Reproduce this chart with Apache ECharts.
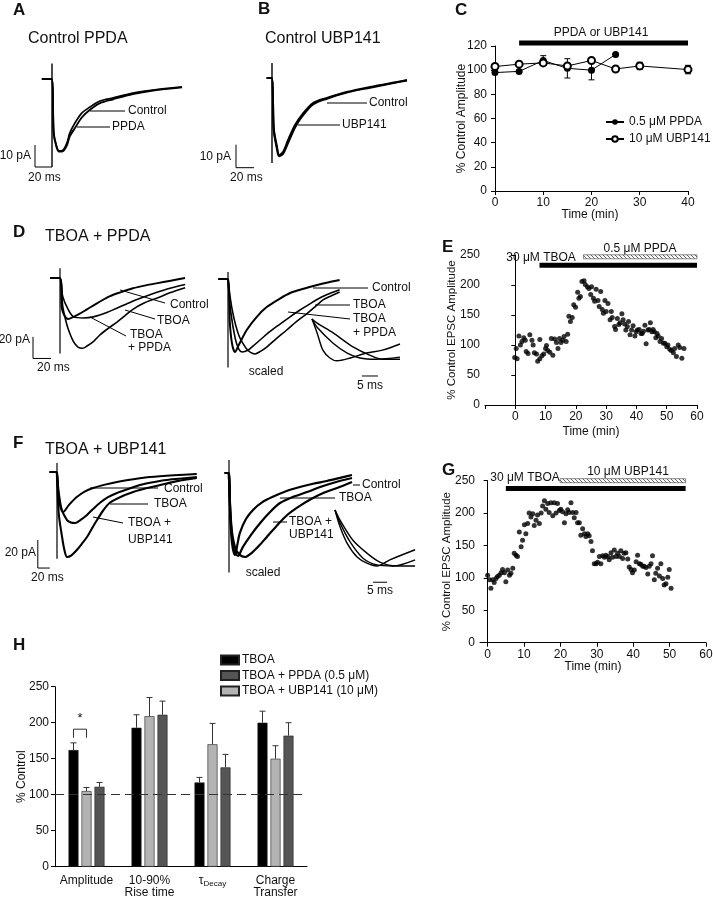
<!DOCTYPE html>
<html>
<head>
<meta charset="utf-8">
<script src="https://cdn.jsdelivr.net/npm/echarts@6/dist/echarts.min.js"></script>
<style>
  html, body { margin: 0; padding: 0; background: #fff; }
  #chart { width: 713px; height: 899px; }
</style>
</head>
<body>
<div id="chart"></div>
<script>
// ---------- data ----------
// traces are [ms, pA] pairs, t = 0 at the stimulus artifact
const aControl = [[-12,0],[-0.5,0],[2,-24],[5,-30],[8.2,-32.7],[13,-32.3],[17.6,-29],[21,-24.5],[27,-20],[35,-15.5],[44.7,-12.7],[56.5,-10],[72,-8.6],[95,-6.4],[119,-5],[153,-3.6]];
const aPpda = [[-12,0],[-0.5,0],[2,-25],[5,-30.5],[8.2,-33],[13,-32.8],[17.6,-30],[21,-26],[27,-22.3],[35,-17.5],[44.7,-14],[56.5,-11],[72,-9.2],[95,-6.8],[119,-5.2],[153,-3.8]];
const aArtifact = [[0,7],[0,-40]];
const aScaleBar = [[-20,-30],[-20,-40],[0,-40]];

const bControl = [[-6,0],[-0.5,0],[2,-22],[5.6,-30],[7.8,-33.5],[12.2,-32.2],[17.8,-27],[25.6,-20.4],[33.3,-16],[45.6,-10.9],[61,-8.7],[83,-6.1],[109,-3.9],[139,-1.7],[150,-0.9]];
const bUbp = [[-6,0],[-0.5,0],[2,-23],[5.6,-31],[7.8,-34],[12.2,-33],[17.8,-28.3],[25.6,-21.5],[33.3,-16.8],[45.6,-11.5],[61,-9],[83,-6.3],[109,-4.2],[139,-1.9],[150,-1.1]];
const bArtifact = [[0,6.5],[0,-37]];
const bScaleBar = [[-40,-29],[-40,-39],[-20,-39]];

const dControl = [[-11,0],[-0.3,0],[2,-28],[5,-35],[9,-38],[15,-36],[22,-33],[30,-29],[42,-23],[55,-17],[68,-13],[81,-9.5],[94,-7],[107,-5],[123,-2.5],[139,0]];
const dTboa = [[-11,0],[-0.3,0],[3,-17],[9,-29],[15,-36],[26,-37],[37,-36],[52,-32],[63,-28],[74,-24],[87,-19.5],[100,-15.5],[120,-10],[139,-6]];
const dTboaPpda = [[-11,0],[-0.3,0],[3,-26],[6,-38],[9,-47],[15,-59],[20,-64],[25,-65],[30,-63],[37,-59],[44,-53],[53,-47],[63,-41],[72,-35],[81,-29],[94,-23],[108,-18.5],[123,-13.5],[139,-9]];
const dArtifact = [[0,9],[0,-70]];
const dScaleBar = [[-30,-54.5],[-30,-74.5],[-10,-74.5]];

const dsControl = [[-11,0],[-0.3,0],[2,-40],[4.5,-60],[7.8,-67.6],[12,-61],[21,-47],[32,-35],[43,-26],[56,-19],[69,-13],[84,-9],[99,-5.6],[112,-3],[124,-1]];
const dsTboa = [[-0.3,0],[3,-30],[8,-55],[12,-65],[15.6,-67.6],[22,-66],[28,-62],[35.6,-56.5],[46,-49],[57.8,-41.7],[69,-35],[80,-28.7],[91,-23],[102,-17.6],[113,-13.5],[124,-10]];
const dsTboaPpda = [[-0.3,0],[5,-30],[12,-52],[20,-64],[25,-68],[30,-69.4],[36,-67],[43,-63],[54,-55],[65.6,-47],[76,-39.5],[87.8,-32],[97,-25.5],[105.6,-19.4],[115,-15.5],[124,-12]];
const dsArtifact = [[0,6.5],[0,-82]];

// insets: normalised rising phase
const dInsetControl = [[0,0],[1.6,-0.34],[3.4,-0.76],[5.6,-0.95],[7.8,-1.02],[12,-0.95],[17,-0.83],[22,-0.76],[27.5,-0.61]];
const dInsetTboa = [[0,0],[1.6,-0.2],[6.6,-0.59],[11,-0.83],[15,-0.95],[20,-0.98],[27.5,-0.93]];
const dInsetTboaPpda = [[0,0],[1.6,-0.1],[6.6,-0.34],[12.8,-0.68],[18,-0.88],[22,-0.98],[27.5,-0.98]];
const dInsetScaleBar = [[15.6,-1.39],[20.6,-1.39]];

const fControl = [[-13,0],[-0.3,0],[2,-15],[5,-24],[10,-28.6],[20,-23.5],[33,-17.9],[46,-14],[60,-11.4],[80,-9],[100,-7.1],[130,-5],[155,-3.6],[195,-2.3],[233,-1.4]];
const fTboa = [[-0.3,0],[3,-15],[8,-27],[16.7,-34.3],[23,-36],[30,-36.4],[40,-34],[50,-30.7],[60,-26.5],[71.7,-22],[85,-18],[100,-15],[120,-12],[138,-9.3],[160,-7.3],[183,-5.7],[233,-3.6]];
const fTboaUbp = [[-0.3,0],[3,-30],[8.3,-46],[12,-55],[16.7,-60.7],[24,-59.5],[33,-55.7],[41,-51.5],[50,-46.4],[58,-40.5],[66.7,-34.3],[77,-27.5],[88,-22],[105,-18],[127,-14.3],[150,-11.5],[172,-9.3],[200,-6.5],[233,-4.3]];
const fArtifact = [[0,6.4],[0,-62]];
const fScaleBar = [[-32,-48.6],[-32,-68.6],[-12,-68.6]];

const fsControl = [[-8,0],[-0.3,0],[2,-30],[5,-50],[10,-58.6],[14,-51],[18,-42.9],[28,-33],[40,-26.4],[55,-21],[73,-17],[95,-13],[118,-10],[140,-7.7],[163,-5.7],[185,-3.5],[205,-1.4]];
const fsTboa = [[-0.3,0],[3,-35],[8,-54],[15,-59.3],[23,-52.9],[37,-44],[52,-35.7],[68,-28],[85,-21.4],[107,-17],[130,-13.6],[152,-10],[173,-7.1],[205,-3.6]];
const fsTboaUbp = [[-0.3,0],[4,-38],[10,-53],[18,-58.5],[26.7,-60],[38,-57],[50,-52],[63,-45.7],[80,-37.5],[97,-30],[118,-23.5],[140,-17.9],[160,-13.8],[180,-10.7],[205,-6.4]];
const fsArtifact = [[0,9.3],[0,-71]];

const fInsetControl = [[0,0],[1.8,-0.3],[4.3,-0.59],[7.9,-0.84],[11.4,-0.95],[15,-1],[19.6,-0.89],[28.6,-0.71]];
const fInsetTboa = [[0,0],[1.8,-0.23],[5.4,-0.57],[10,-0.86],[15,-0.98],[20.7,-1],[28.6,-0.89]];
const fInsetTboaUbp = [[0,0],[1.8,-0.18],[6.4,-0.54],[11.4,-0.77],[16,-0.93],[22,-1],[28.6,-1]];
const fInsetScaleBar = [[13.6,-1.29],[18.6,-1.29]];

// C: time course (min, % control)
const cTimePpda = [0, 5, 10, 15, 20, 25];
const cPpda = [98, 99, 108, 101.5, 100, 113];
const cPpdaErr = [1, 1, 4, 8, 8, 0];
const cTimeUbp = [0, 5, 10, 15, 20, 25, 30, 40];
const cUbp = [103, 105, 106, 103.5, 108, 101, 103.5, 100.5];
const cUbpErr = [1, 1, 2, 2, 1, 1, 3, 3.5];
const cDrugBar = [5, 40, 122.5];

// E: TBOA then PPDA
const eTime = [-0.2,0.6,0.3,1.2,1.7,2.2,2.8,3.3,3.6,4.2,4.8,5.5,5.9,6.3,7,7.4,8.1,8.1,8.8,9.4,10,10.3,10.7,11.4,11.9,12.4,13,13.6,14.1,14.6,15.1,15.7,16.1,16.8,17.3,17.7,18.2,18.8,19.3,19.9,20.6,21,21.5,22,22.7,23.1,23.8,24.3,24.9,25.2,25.8,26.2,26.7,27.3,27.7,28.2,28.7,29.1,29.6,30,30.6,31.3,31.7,32,32.8,33.1,33.7,34.2,34.6,35.2,35.6,36.1,36.5,37,37.4,37.9,38.4,38.9,39.5,39.9,40.3,40.9,41.5,41.9,42.3,42.8,43.2,43.8,44.2,44.6,45.1,45.5,45.9,46.4,46.8,47.2,47.8,48.3,48.9,49.4,50,50.4,51,51.5,52.2,52.6,53.2,53.8,54.3,55,55.7];
const eAmp = [79,77,94,115,100,106,112,108,89,86,117,108,100,87,85,73,77,109,82,85,94,99,91,88,111,83,110,104,94,111,104,108,114,106,118,148,139,146,167,163,188,178,181,206,207,201,197,194,184,197,178,173,193,174,164,189,159,153,174,156,169,142,156,146,131,126,144,134,137,152,142,135,125,131,139,117,125,132,115,122,125,126,119,119,123,133,102,125,126,137,122,126,122,112,119,115,106,111,103,103,97,100,93,91,87,94,81,100,96,78,94];
const eTboaBar = [8, 60, 233];
const ePpdaBar = [22.5, 60, 247];

// G: TBOA then UBP141
const gTime = [0,0.5,0.9,1.4,1.8,2.3,2.7,3.2,3.7,4.1,4.6,5,5.5,6,6.4,6.9,7.3,7.8,8.2,8.7,9.2,9.6,10.1,10.5,11,11.4,11.9,12.4,12.8,13.3,13.7,14.2,14.7,15.1,15.6,16,16.5,16.9,17.4,17.9,18.3,18.8,19.2,19.7,20.1,20.6,21.1,21.5,22,22.4,22.9,23.4,23.8,24.3,24.7,25.2,25.6,26.1,26.6,27,27.5,27.9,28.4,28.8,29.3,29.8,30.2,30.7,31.1,31.6,32.1,32.5,33,33.4,33.9,34.3,34.8,35.3,35.7,36.2,36.6,37.1,37.5,38,38.5,38.9,39.4,39.8,40.3,40.8,41.2,41.7,42.1,42.6,43,43.5,44,44.4,44.9,45.3,45.8,46.2,46.7,47.2,47.6,48.1,48.5,49,49.5,49.9,50.4];
const gAmp = [104,97,84,97,93,99,102,104,108,113,108,94,112,104,107,115,138,135,133,171,148,158,182,168,184,200,194,199,181,189,197,184,200,211,219,206,215,201,216,196,216,200,215,204,206,202,185,199,205,201,216,201,193,201,185,185,166,176,168,164,168,165,156,142,122,122,124,133,122,134,132,135,133,128,139,132,143,133,138,133,142,130,138,139,129,117,113,108,112,125,135,122,121,118,118,116,106,118,122,134,97,107,115,103,122,99,89,91,101,113,84];
const gTboaBar = [5, 54.4, 238];
const gUbpBar = [19.9, 54.4, 250];

// H: summary bars (% control)
const hCategories = ['Amplitude', '10-90%\nRise time', 'τDecay', 'Charge\nTransfer'];
const hTboa = [162, 193, 117, 200];
const hTboaErr = [10, 18, 7, 16];
const hUbp = [105, 209, 170, 150];
const hUbpErr = [5, 26, 29, 18];
const hPpda = [111, 211, 138, 182];
const hPpdaErr = [6, 19, 18, 18];
const hSigBracket = [191, 179, 206];

// ---------- chart ----------
const FONT = '"Liberation Sans", Arial, sans-serif';
const chart = echarts.init(document.getElementById('chart'));
const grid = [], xAxis = [], yAxis = [], series = [], graphic = [];

// hatched fill for the second drug bar
const hatch = document.createElement('canvas');
hatch.width = 4; hatch.height = 4;
const hg = hatch.getContext('2d');
hg.fillStyle = '#fff'; hg.fillRect(0, 0, 4, 4);
hg.strokeStyle = '#666'; hg.lineWidth = 1;
hg.beginPath(); hg.moveTo(0, 0); hg.lineTo(4, 4); hg.stroke();
const hatchFill = { image: hatch, repeat: 'repeat' };

function addGrid(box) {
  grid.push(Object.assign({ outerBoundsMode: 'none', containLabel: false }, box));
  return grid.length - 1;
}
function traceGrid(x0, y0, sx, sy, t0, t1, i0, i1) {
  const i = addGrid({ left: x0 + t0 * sx, top: y0 - i1 * sy, width: (t1 - t0) * sx, height: (i1 - i0) * sy });
  xAxis.push({ type: 'value', gridIndex: i, min: t0, max: t1, show: false });
  yAxis.push({ type: 'value', gridIndex: i, min: i0, max: i1, show: false });
  return i;
}
function trace(g, data, w, smooth) {
  series.push({
    type: 'line', xAxisIndex: g, yAxisIndex: g, data: data, showSymbol: false,
    smooth: smooth === undefined ? 0.3 : smooth, clip: false, silent: true,
    lineStyle: { color: '#000', width: w || 1.6 }
  });
}
function txt(x, y, s, size, extra) {
  graphic.push({ type: 'text', x: x, y: y, silent: true,
    style: Object.assign({ text: s, font: (size || 12) + 'px ' + FONT, fill: '#111', align: 'left', verticalAlign: 'middle' }, extra || {}) });
}
function ln(x1, y1, x2, y2) {
  graphic.push({ type: 'line', silent: true, shape: { x1: x1, y1: y1, x2: x2, y2: y2 },
    style: { stroke: '#000', lineWidth: 1 } });
}

// ----- A -----
const gA = traceGrid(52, 79, 0.85, 2.2, -22, 160, -45, 10);
trace(gA, aPpda, 1.9); trace(gA, aControl, 1.7);
trace(gA, aArtifact, 1.4, false); trace(gA, aScaleBar, 1, false);
// ----- B -----
const gB = traceGrid(272, 78, 0.9, 2.3, -42, 155, -42, 10);
trace(gB, bUbp, 2); trace(gB, bControl, 2);
trace(gB, bArtifact, 1.4, false); trace(gB, bScaleBar, 1, false);
// ----- D -----
const gD = traceGrid(60, 278, 0.9, 1.08, -32, 145, -78, 12);
trace(gD, dControl, 1.9); trace(gD, dTboa, 1.6); trace(gD, dTboaPpda, 1.6);
trace(gD, dArtifact, 1.2, false); trace(gD, dScaleBar, 1, false);
const gDs = traceGrid(228, 279, 0.9, 1.08, -12, 130, -85, 10);
trace(gDs, dsControl, 2); trace(gDs, dsTboa, 1.6); trace(gDs, dsTboaPpda, 1.6);
trace(gDs, dsArtifact, 1.2, false);
const gDi = traceGrid(312, 319, 3.2, 41, -1, 30, -1.5, 0.2);
trace(gDi, dInsetControl, 1.4); trace(gDi, dInsetTboa, 1.4); trace(gDi, dInsetTboaPpda, 1.4);
trace(gDi, dInsetScaleBar, 1, false);
// ----- F -----
const gF = traceGrid(57, 472, 0.6, 1.4, -35, 240, -72, 10);
trace(gF, fControl, 2); trace(gF, fTboa, 2.1); trace(gF, fTboaUbp, 2.1);
trace(gF, fArtifact, 1.2, false); trace(gF, fScaleBar, 1, false);
const gFs = traceGrid(229, 473, 0.6, 1.4, -10, 210, -75, 12);
trace(gFs, fsControl, 2.2); trace(gFs, fsTboa, 2.2); trace(gFs, fsTboaUbp, 2.2);
trace(gFs, fsArtifact, 1.2, false);
const gFi = traceGrid(335, 510, 2.8, 56, -1, 31, -1.4, 0.2);
trace(gFi, fInsetControl, 1.4); trace(gFi, fInsetTboa, 1.4); trace(gFi, fInsetTboaUbp, 1.4);
trace(gFi, fInsetScaleBar, 1, false);

// ----- shared axis look -----
const axisLook = {
  axisLine: { show: true, lineStyle: { color: '#000', width: 1 } },
  axisTick: { show: true, length: 4, lineStyle: { color: '#000' } },
  axisLabel: { color: '#111', fontSize: 12, fontFamily: FONT },
  splitLine: { show: false },
  nameLocation: 'middle',
  nameMoveOverlap: false,
  nameTextStyle: { color: '#111', fontSize: 12, fontFamily: FONT }
};
function drugBars(g, bars) {
  series.push({
    type: 'custom', xAxisIndex: g, yAxisIndex: g, silent: true, clip: false, z: 5,
    data: bars,
    renderItem: function (params, api) {
      const p1 = api.coord([api.value(0), api.value(2)]);
      const p2 = api.coord([api.value(1), api.value(2)]);
      const hatched = api.value(3) === 1;
      const h = hatched ? 4 : 5;
      return { type: 'rect', shape: { x: p1[0], y: p1[1] - h / 2, width: p2[0] - p1[0], height: h },
        style: hatched ? { fill: hatchFill, stroke: '#555', lineWidth: 0.7 } : { fill: '#000' } };
    }
  });
}

// ----- C -----
const gC = addGrid({ left: 492, top: 46, width: 196, height: 145 });
xAxis.push(Object.assign({}, axisLook, { type: 'value', gridIndex: gC, min: -0.62, max: 40,
  axisTick: { show: true, length: 4, lineStyle: { color: '#000' }, customValues: [0, 10, 20, 30, 40] },
  axisLabel: { color: '#111', fontSize: 12, fontFamily: FONT, margin: 6, customValues: [0, 10, 20, 30, 40] },
  name: 'Time (min)', nameGap: 18 }));
yAxis.push(Object.assign({}, axisLook, { type: 'value', gridIndex: gC, min: 0, max: 120, interval: 20,
  name: '% Control Amplitude', nameGap: 24,
  axisLabel: { color: '#111', fontSize: 12, fontFamily: FONT, margin: 5 } }));
drugBars(gC, [[cDrugBar[0], cDrugBar[1], cDrugBar[2], 0]]);
series.push({
  type: 'custom', xAxisIndex: gC, yAxisIndex: gC, silent: true, z: 3,
  data: cTimePpda.map((t, i) => [t, cPpda[i] - cPpdaErr[i], cPpda[i] + cPpdaErr[i]])
    .concat(cTimeUbp.map((t, i) => [t, cUbp[i] - cUbpErr[i], cUbp[i] + cUbpErr[i]])),
  renderItem: function (params, api) {
    const a = api.coord([api.value(0), api.value(1)]);
    const b = api.coord([api.value(0), api.value(2)]);
    const st = { stroke: '#000', lineWidth: 1 };
    return { type: 'group', children: [
      { type: 'line', shape: { x1: a[0], y1: a[1], x2: b[0], y2: b[1] }, style: st },
      { type: 'line', shape: { x1: a[0] - 3, y1: a[1], x2: a[0] + 3, y2: a[1] }, style: st },
      { type: 'line', shape: { x1: b[0] - 3, y1: b[1], x2: b[0] + 3, y2: b[1] }, style: st }
    ] };
  }
});
series.push({ name: '0.5 μM PPDA', type: 'line', xAxisIndex: gC, yAxisIndex: gC, z: 4,
  data: cTimePpda.map((t, i) => [t, cPpda[i]]), symbol: 'circle', symbolSize: 7,
  itemStyle: { color: '#000' }, lineStyle: { color: '#000', width: 1 } });
series.push({ name: '10 μM UBP141', type: 'line', xAxisIndex: gC, yAxisIndex: gC, z: 4,
  data: cTimeUbp.map((t, i) => [t, cUbp[i]]), symbol: 'emptyCircle', symbolSize: 7,
  itemStyle: { color: '#000', borderWidth: 1 }, lineStyle: { color: '#000', width: 1 } });

// ----- E -----
const gE = addGrid({ left: 485, top: 255, width: 212, height: 150 });
xAxis.push(Object.assign({}, axisLook, { type: 'value', gridIndex: gE, min: -10, max: 60, interval: 10,
  axisLabel: { color: '#111', fontSize: 12, fontFamily: FONT, margin: 6, formatter: v => v < 0 ? '' : String(v) },
  name: 'Time (min)', nameGap: 21 }));
yAxis.push(Object.assign({}, axisLook, { type: 'value', gridIndex: gE, min: 0, max: 250, interval: 50,
  name: '% Control EPSC Amplitude', nameGap: 27,
  nameTextStyle: { color: '#111', fontSize: 11.5, fontFamily: FONT },
  axisLabel: { color: '#111', fontSize: 12, fontFamily: FONT, margin: 5 } }));
drugBars(gE, [[eTboaBar[0], eTboaBar[1], eTboaBar[2], 0], [ePpdaBar[0], ePpdaBar[1], ePpdaBar[2], 1]]);
series.push({ type: 'scatter', xAxisIndex: gE, yAxisIndex: gE, symbolSize: 5, silent: true,
  data: eTime.map((t, i) => [t, eAmp[i]]), itemStyle: { color: '#000' } });

// ----- G -----
const gG = addGrid({ left: 480, top: 480.7, width: 226, height: 162 });
xAxis.push(Object.assign({}, axisLook, { type: 'value', gridIndex: gG, min: -2.1, max: 60,
  axisTick: { show: true, length: 4, lineStyle: { color: '#000' }, customValues: [0, 10, 20, 30, 40, 50, 60] },
  axisLabel: { color: '#111', fontSize: 12, fontFamily: FONT, margin: 6, customValues: [0, 10, 20, 30, 40, 50, 60] },
  name: 'Time (min)', nameGap: 18 }));
yAxis.push(Object.assign({}, axisLook, { type: 'value', gridIndex: gG, min: 0, max: 250, interval: 50,
  name: '% Control EPSC Amplitude', nameGap: 27,
  nameTextStyle: { color: '#111', fontSize: 11.5, fontFamily: FONT },
  axisLabel: { color: '#111', fontSize: 12, fontFamily: FONT, margin: 5 } }));
drugBars(gG, [[gTboaBar[0], gTboaBar[1], gTboaBar[2], 0], [gUbpBar[0], gUbpBar[1], gUbpBar[2], 1]]);
series.push({ type: 'scatter', xAxisIndex: gG, yAxisIndex: gG, symbolSize: 5, silent: true,
  data: gTime.map((t, i) => [t, gAmp[i]]), itemStyle: { color: '#000' } });

// ----- H -----
const gH = addGrid({ left: 55, top: 686.7, width: 252, height: 180 });
xAxis.push(Object.assign({}, axisLook, { type: 'category', gridIndex: gH, data: hCategories,
  axisTick: { show: false },
  axisLabel: { color: '#111', fontSize: 12, fontFamily: FONT, margin: 8, lineHeight: 12, interval: 0,
    formatter: v => v === 'τDecay' ? '{t|τ}{s|Decay}' : v,
    rich: { t: { fontSize: 12, fontFamily: FONT, color: '#111' }, s: { fontSize: 8, fontFamily: FONT, color: '#111', padding: [6, 0, 0, 0] } } } }));
yAxis.push(Object.assign({}, axisLook, { type: 'value', gridIndex: gH, min: 0, max: 250, interval: 50,
  name: '% Control', nameGap: 27,
  axisLabel: { color: '#111', fontSize: 12, fontFamily: FONT, margin: 6 } }));
// dashed 100 % line under the bars
series.push({ type: 'line', xAxisIndex: gH, yAxisIndex: gH, data: [], z: 0, silent: true,
  markLine: { silent: true, symbol: 'none', label: { show: false },
    lineStyle: { color: '#333', type: [9, 5], width: 1 }, data: [{ yAxis: 100 }] } });
const barDefs = [
  { name: 'TBOA', vals: hTboa, err: hTboaErr, color: '#000000' },
  { name: 'TBOA + UBP141 (10 μM)', vals: hUbp, err: hUbpErr, color: '#b3b3b3' },
  { name: 'TBOA + PPDA (0.5 μM)', vals: hPpda, err: hPpdaErr, color: '#555555' }
];
barDefs.forEach(function (b) {
  series.push({ name: b.name, type: 'bar', xAxisIndex: gH, yAxisIndex: gH, data: b.vals, z: 2,
    barWidth: 10, barGap: '30%', silent: true,
    itemStyle: { color: b.color, borderColor: '#222', borderWidth: 0.6 } });
});
series.push({
  type: 'custom', xAxisIndex: gH, yAxisIndex: gH, silent: true, z: 3,
  data: barDefs.flatMap((b, k) => b.vals.map((v, i) => [i, v, v + b.err[i], k])),
  renderItem: function (params, api) {
    const off = (api.value(3) - 1) * 13;
    const a = api.coord([api.value(0), api.value(1)]);
    const b = api.coord([api.value(0), api.value(2)]);
    const x = a[0] + off;
    const st = { stroke: '#333', lineWidth: 1 };
    return { type: 'group', children: [
      { type: 'line', shape: { x1: x, y1: a[1], x2: x, y2: b[1] }, style: st },
      { type: 'line', shape: { x1: x - 3, y1: b[1], x2: x + 3, y2: b[1] }, style: st }
    ] };
  }
});
// significance bracket between TBOA and UBP141 amplitude bars
series.push({
  type: 'custom', xAxisIndex: gH, yAxisIndex: gH, silent: true, z: 3,
  data: [[0, hSigBracket[0], hSigBracket[1], hSigBracket[2]]],
  renderItem: function (params, api) {
    const top = api.coord([api.value(0), api.value(1)]);
    const bot = api.coord([api.value(0), api.value(2)]);
    const star = api.coord([api.value(0), api.value(3)]);
    const x1 = top[0] - 13, x2 = top[0];
    return { type: 'group', children: [
      { type: 'polyline', shape: { points: [[x1, bot[1]], [x1, top[1]], [x2, top[1]], [x2, bot[1]]] }, style: { stroke: '#333', lineWidth: 1, fill: null } },
      { type: 'text', x: (x1 + x2) / 2, y: star[1], style: { text: '*', font: '13px ' + FONT, fill: '#111', align: 'center', verticalAlign: 'middle' } }
    ] };
  }
});

// ----- text annotations -----
const bold = { font: 'bold 17px ' + FONT };
txt(13, 10, 'A', 17, bold); txt(258, 9, 'B', 17, bold); txt(455, 10, 'C', 17, bold);
txt(13, 232, 'D', 17, bold); txt(442, 247, 'E', 17, bold); txt(13, 443, 'F', 17, bold);
txt(442, 470, 'G', 17, bold); txt(13, 645, 'H', 17, bold);

txt(28, 39, 'Control PPDA', 16); txt(265, 39, 'Control UBP141', 16);
txt(45, 237, 'TBOA + PPDA', 16); txt(45, 450, 'TBOA + UBP141', 16);

// A
ln(90, 111, 125, 111); txt(128, 111, 'Control');
ln(77, 127, 110, 127); txt(112, 127, 'PPDA');
txt(31, 156, '10 pA', 12, { align: 'right' }); txt(28, 178, '20 ms');
// B
ln(327, 103, 367, 103); txt(369, 103, 'Control');
ln(298, 125, 340, 125); txt(342, 125, 'UBP141');
txt(231, 157, '10 pA', 12, { align: 'right' }); txt(230, 178, '20 ms');
// C
txt(601, 33, 'PPDA or UBP141', 12, { align: 'center' });
// D
ln(120, 290, 165, 303); txt(170, 305, 'Control');
ln(125, 310, 155, 319); txt(157, 321, 'TBOA');
ln(90, 317, 126, 336); txt(130, 335, 'TBOA'); txt(128, 348, '+ PPDA');
txt(30, 340, '20 pA', 12, { align: 'right' }); txt(37, 368, '20 ms');
ln(313, 288, 368, 288); txt(372, 288, 'Control');
ln(315, 305, 350, 305); txt(353, 305, 'TBOA');
ln(288, 312, 350, 319); txt(353, 319, 'TBOA'); txt(353, 333, '+ PPDA');
txt(266, 372, 'scaled', 12, { align: 'center' }); txt(370, 386, '5 ms', 12, { align: 'center' });
// E
txt(541, 258, '30 μM TBOA', 12, { align: 'center' }); txt(640, 249, '0.5 μM PPDA', 12, { align: 'center' });
// F
ln(90, 488, 158, 488); txt(164, 489, 'Control');
ln(110, 504, 148, 504); txt(154, 504, 'TBOA');
ln(93, 517, 123, 523); txt(128, 523, 'TBOA +'); txt(128, 540, 'UBP141');
txt(36, 553, '20 pA', 12, { align: 'right' }); txt(31, 578, '20 ms');
ln(353, 485, 360, 485); txt(362, 485, 'Control');
ln(280, 498, 335, 498); txt(339, 498, 'TBOA');
ln(273, 522, 287, 522); txt(289, 522, 'TBOA +'); txt(289, 535, 'UBP141');
txt(263, 573, 'scaled', 12, { align: 'center' }); txt(380, 591, '5 ms', 12, { align: 'center' });
// G
txt(525, 478, '30 μM TBOA', 12, { align: 'center' }); txt(628, 472, '10 μM UBP141', 12, { align: 'center' });

chart.setOption({
  animation: false,
  backgroundColor: '#fff',
  textStyle: { fontFamily: FONT },
  grid: grid, xAxis: xAxis, yAxis: yAxis,
  legend: [
    { data: ['0.5 μM PPDA', '10 μM UBP141'], orient: 'vertical', left: 600, top: 111,
      itemWidth: 18, itemHeight: 7, itemGap: 5, selectedMode: false,
      textStyle: { fontSize: 12, fontFamily: FONT, color: '#111' } },
    { data: ['TBOA', 'TBOA + PPDA (0.5 μM)', 'TBOA + UBP141 (10 μM)'], orient: 'vertical', left: 215, top: 649,
      itemWidth: 18, itemHeight: 9, itemGap: 3.5, icon: 'rect', selectedMode: false,
      textStyle: { fontSize: 12, fontFamily: FONT, color: '#111', padding: [0, 0, 0, -2] } }
  ],
  series: series,
  graphic: graphic
});
</script>
</body>
</html>
